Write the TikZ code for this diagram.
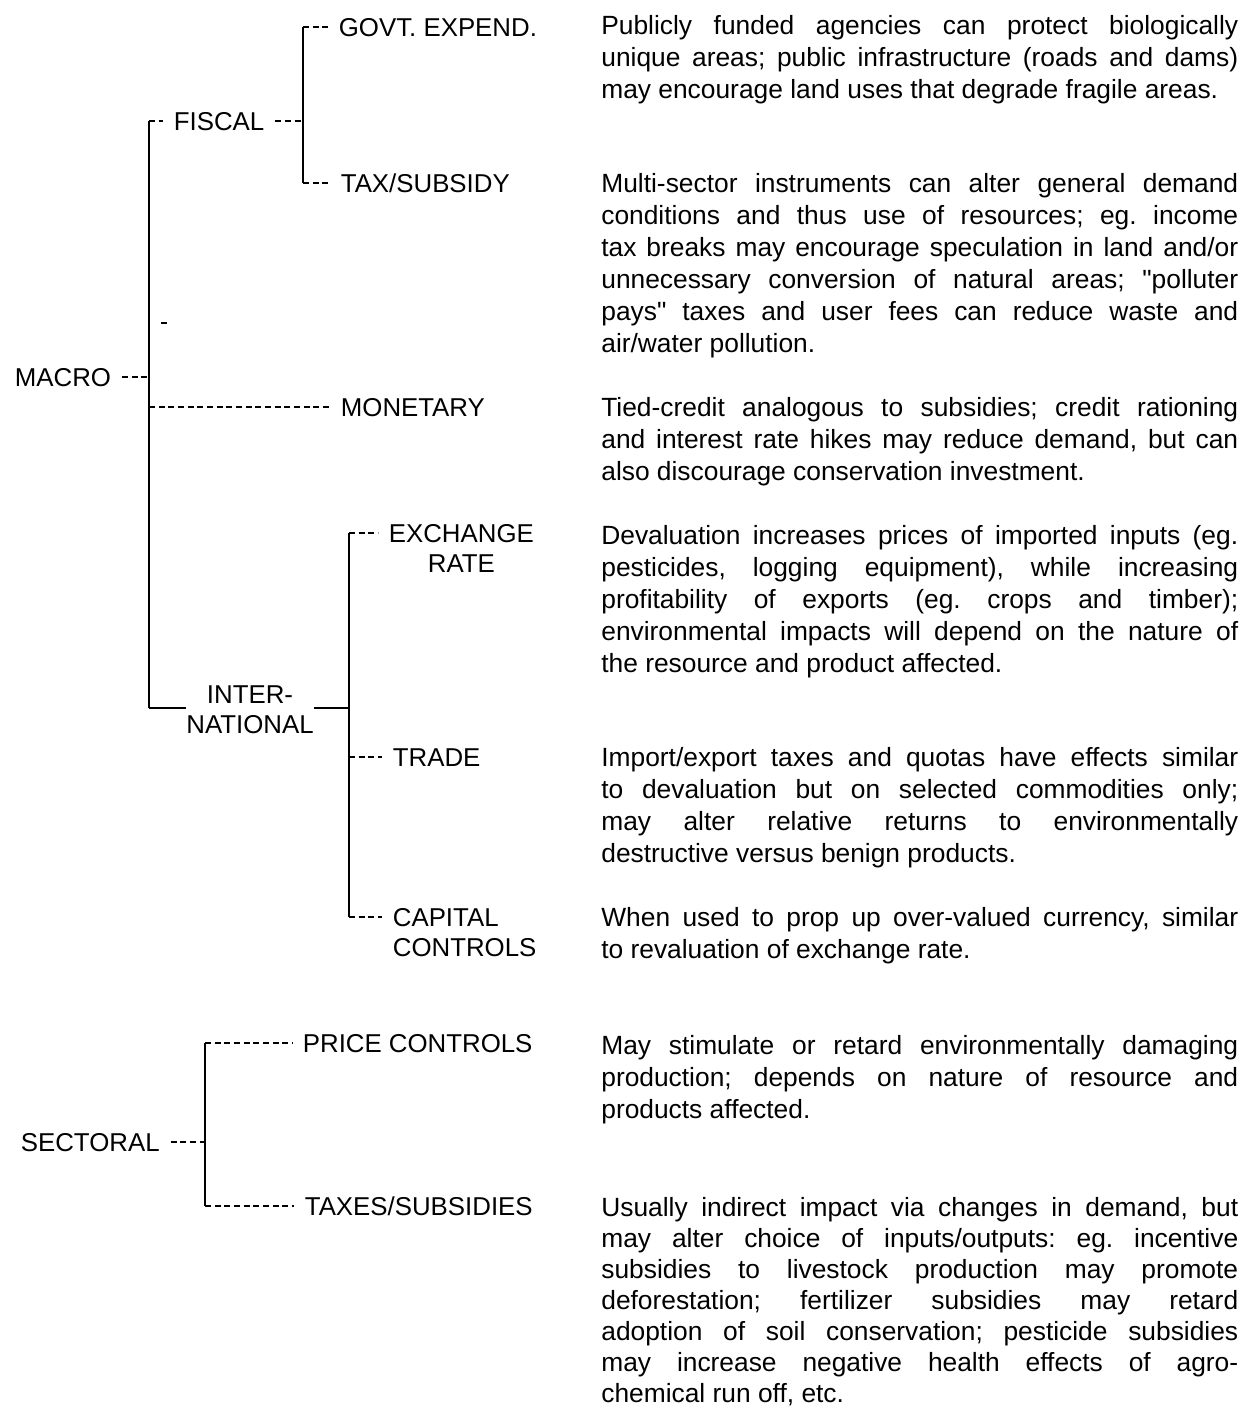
\documentclass[tikz,border=0pt]{standalone}
\usepackage{fontspec}
\setmainfont{Liberation Sans}[Ligatures=TeXOff]
\tolerance=10000
\hyphenpenalty=10000
\frenchspacing
\begin{document}
\begin{tikzpicture}[x=0.02cm,y=-0.02cm,
    lab/.style={anchor=west,inner ysep=0pt,inner xsep=6pt,font=\fontsize{14.7}{17}\selectfont,text height=10.5pt,text depth=0pt},
    lab2/.style={anchor=north west,inner ysep=0pt,inner xsep=6pt,font=\fontsize{14.7}{17}\selectfont},
    desc/.style={anchor=north west,inner sep=0pt,text width=12.74cm,align=justify,font=\fontsize{15}{18.2}\selectfont},
    trunk/.style={line width=1.2pt},
    twig/.style={line width=1pt,dash pattern=on 3.5pt off 2pt}]
    \useasboundingbox (0,0) rectangle (1257,1407);

    % labels of the tree
    \node[lab] (macro) at (4,377) {MACRO};
    \node[lab] (fiscal) at (163,121) {FISCAL};
    \node[lab] (govt) at (328,27) {GOVT. EXPEND.};
    \node[lab] (taxsub) at (330,183) {TAX/SUBSIDY};
    \node[lab] (monetary) at (330,407) {MONETARY};
    \node[lab2,anchor=center,inner sep=0pt,align=center] (inter) at (250,710) {INTER-\\NATIONAL};
    \node[lab2,align=center] (exch) at (378,524) {EXCHANGE\\RATE};
    \node[lab] (trade) at (382,757) {TRADE};
    \node[lab2,align=left] (capital) at (382,908) {CAPITAL\\CONTROLS};
    \node[lab] (sectoral) at (10,1142) {SECTORAL};
    \node[lab] (price) at (292,1043) {PRICE CONTROLS};
    \node[lab] (taxes) at (294,1206) {TAXES/SUBSIDIES};

    % joints
    \coordinate (mt) at (149,121); \coordinate (mj) at (149,377);
    \coordinate (mm) at (149,407); \coordinate (mb) at (149,708);
    \coordinate (ft) at (303,27); \coordinate (fj) at (303,121); \coordinate (fb) at (303,183);
    \coordinate (it) at (349,533); \coordinate (ij) at (349,708);
    \coordinate (im) at (349,757); \coordinate (ib) at (349,917);
    \coordinate (st) at (205,1043); \coordinate (sj) at (205,1142); \coordinate (sb) at (205,1206);

    \draw[trunk] (mt) -- (mb);
    \draw[trunk] (ft) -- (fb);
    \draw[trunk] (it) -- (ib);
    \draw[trunk] (st) -- (sb);
    \draw[twig] (macro) -- (mj);
    \draw[twig] (mt) -- (fiscal);
    \draw[twig] (fiscal) -- (fj);
    \draw[twig] (ft) -- (govt);
    \draw[twig] (fb) -- (taxsub);
    \draw[twig] (mm) -- (monetary);
    \draw[trunk] (mb) -- (mb -| inter.west);
    \draw[trunk] (ij -| inter.east) -- (ij);
    \draw[twig] (it) -- (it -| exch.west);
    \draw[twig] (im) -- (trade);
    \draw[twig] (ib) -- (ib -| capital.west);
    \draw[twig] (sectoral) -- (sj);
    \draw[twig] (st) -- (price);
    \draw[twig] (sb) -- (taxes);
    \draw[trunk] (161,323) -- (167,323);

    % descriptions
    \node[desc] (dgovt) at (601,12) {\strut Publicly funded agencies can protect biologically\linebreak
      unique areas; public infrastructure (roads and dams)\linebreak
      may encourage land uses that degrade fragile areas.};
    \node[desc] (dtaxsub) at (601,170) {\strut Multi-sector instruments can alter general demand\linebreak
      conditions and thus use of resources; eg. income\linebreak
      tax breaks may encourage speculation in land and/or\linebreak
      unnecessary conversion of natural areas; "polluter\linebreak
      pays" taxes and user fees can reduce waste and\linebreak
      air/water pollution.};
    \node[desc] (dmonetary) at (601,394) {\strut Tied-credit analogous to subsidies; credit rationing\linebreak
      and interest rate hikes may reduce demand, but can\linebreak
      also discourage conservation investment.};
    \node[desc] (dexch) at (601,522) {\strut Devaluation increases prices of imported inputs (eg.\linebreak
      pesticides, logging equipment), while increasing\linebreak
      profitability of exports (eg. crops and timber);\linebreak
      environmental impacts will depend on the nature of\linebreak
      the resource and product affected.};
    \node[desc] (dtrade) at (601,744) {\strut Import/export taxes and quotas have effects similar\linebreak
      to devaluation but on selected commodities only;\linebreak
      may alter relative returns to environmentally\linebreak
      destructive versus benign products.};
    \node[desc] (dcapital) at (601,904) {\strut When used to prop up over-valued currency, similar\linebreak
      to revaluation of exchange rate.};
    \node[desc] (dprice) at (601,1032) {\strut May stimulate or retard environmentally damaging\linebreak
      production; depends on nature of resource and\linebreak
      products affected.};
    \node[desc,font=\fontsize{15}{17.7}\selectfont] (dtaxes) at (601,1194) {\strut Usually indirect impact via changes in demand, but\linebreak
      may alter choice of inputs/outputs: eg. incentive\linebreak
      subsidies to livestock production may promote\linebreak
      deforestation; fertilizer subsidies may retard\linebreak
      adoption of soil conservation; pesticide subsidies\linebreak
      may increase negative health effects of agro-\linebreak
      chemical run off, etc.};
\end{tikzpicture}
\end{document}
